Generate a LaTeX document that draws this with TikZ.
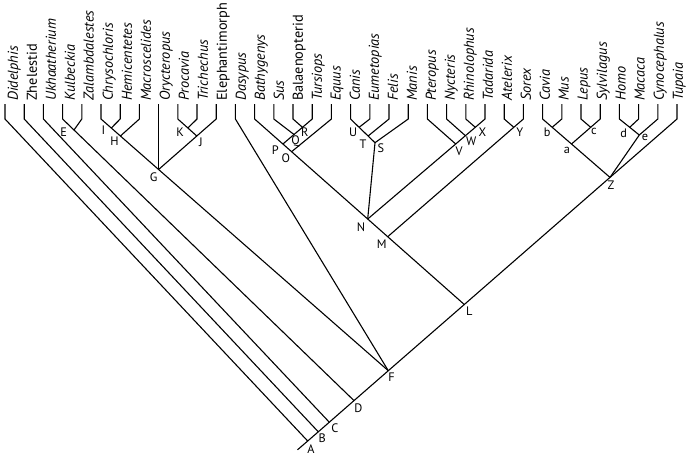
\documentclass[tikz,border=0pt]{standalone}
\usepackage{fontspec}
\setmainfont{PT Sans}
\usetikzlibrary{calc}
\newcommand{\tipsize}{\fontsize{14.3pt}{17pt}\selectfont}
\newcommand{\cladesize}{\fontsize{12.3pt}{14pt}\selectfont}

\begin{document}
\begin{tikzpicture}[
    x=1pt,y=-1pt,
    branch/.style={line width=1.1pt},
    taxon/.style={rotate=90,anchor=north west,inner sep=0pt,font=\tipsize\itshape},
    uptaxon/.style={taxon,font=\tipsize\upshape},
    clade/.style={inner sep=0pt,font=\cladesize},
]
\useasboundingbox (0,0) rectangle (686,456);

% ===== Taxa (tips): top of each tip line, then its name =====
\coordinate (didelphis)      at (5,104);     \node[taxon]   (didelphis-n)      at (7.5,101)   {Didelphis};
\coordinate (zhelestid)      at (24.2,104);  \node[uptaxon] (zhelestid-n)      at (26.5,101)  {Zhelestid};
\coordinate (ukhaatherium)   at (43.4,104);  \node[taxon]   (ukhaatherium-n)   at (45.5,101)  {Ukhaatherium};
\coordinate (kulbeckia)      at (62.6,104);  \node[taxon]   (kulbeckia-n)      at (64.5,101)  {Kulbeckia};
\coordinate (zalambdalestes) at (81.8,104);  \node[taxon]   (zalambdalestes-n) at (83.5,101)  {Zalambdalestes};
\coordinate (chrysochloris)  at (101,104);   \node[taxon]   (chrysochloris-n)  at (102.5,101) {Chrysochloris};
\coordinate (hemicentetes)   at (120.2,104); \node[taxon]   (hemicentetes-n)   at (121.5,101) {Hemicentetes};
\coordinate (macroscelides)  at (139.4,104); \node[taxon]   (macroscelides-n)  at (140.5,101) {Macroscelides};
\coordinate (orycteropus)    at (158.6,104); \node[taxon]   (orycteropus-n)    at (159.5,101) {Orycteropus};
\coordinate (procavia)       at (177.8,104); \node[taxon]   (procavia-n)       at (178.5,101) {Procavia};
\coordinate (trichechus)     at (197,104);   \node[taxon]   (trichechus-n)     at (197.5,101) {Trichechus};
\coordinate (elephantimorph) at (216.2,104); \node[uptaxon] (elephantimorph-n) at (216.5,101) {Elephantimorph};
\coordinate (dasypus)        at (235.4,104); \node[taxon]   (dasypus-n)        at (235.5,101) {Dasypus};
\coordinate (bathygenys)     at (254.6,104); \node[taxon]   (bathygenys-n)     at (254.5,101) {Bathygenys};
\coordinate (sus)            at (273.8,104); \node[taxon]   (sus-n)            at (273.5,101) {Sus};
\coordinate (balaenopterid)  at (293,104);   \node[uptaxon] (balaenopterid-n)  at (292.5,101) {Balaenopterid};
\coordinate (tursiops)       at (312.2,104); \node[taxon]   (tursiops-n)       at (311.5,101) {Tursiops};
\coordinate (equus)          at (331.4,104); \node[taxon]   (equus-n)          at (330.5,101) {Equus};
\coordinate (canis)          at (350.6,104); \node[taxon]   (canis-n)          at (349.5,101) {Canis};
\coordinate (eumetopias)     at (369.8,104); \node[taxon]   (eumetopias-n)     at (368.5,101) {Eumetopias};
\coordinate (felis)          at (389,104);   \node[taxon]   (felis-n)          at (387.5,101) {Felis};
\coordinate (manis)          at (408.2,104); \node[taxon]   (manis-n)          at (406.5,101) {Manis};
\coordinate (pteropus)       at (427.4,104); \node[taxon]   (pteropus-n)       at (425.5,101) {Pteropus};
\coordinate (nycteris)       at (446.6,104); \node[taxon]   (nycteris-n)       at (444.5,101) {Nycteris};
\coordinate (rhinolophus)    at (465.8,104); \node[taxon]   (rhinolophus-n)    at (463.5,101) {Rhinolophus};
\coordinate (tadarida)       at (485,104);   \node[taxon]   (tadarida-n)       at (482.5,101) {Tadarida};
\coordinate (atelerix)       at (504.2,104); \node[taxon]   (atelerix-n)       at (501.5,101) {Atelerix};
\coordinate (sorex)          at (523.4,104); \node[taxon]   (sorex-n)          at (520.5,101) {Sorex};
\coordinate (cavia)          at (542.6,104); \node[taxon]   (cavia-n)          at (539.5,101) {Cavia};
\coordinate (mus)            at (561.8,104); \node[taxon]   (mus-n)            at (558.5,101) {Mus};
\coordinate (lepus)          at (581,104);   \node[taxon]   (lepus-n)          at (577.5,101) {Lepus};
\coordinate (sylvilagus)     at (600.2,104); \node[taxon]   (sylvilagus-n)     at (596.5,101) {Sylvilagus};
\coordinate (homo)           at (619.4,104); \node[taxon]   (homo-n)           at (615.5,101) {Homo};
\coordinate (macaca)         at (638.6,104); \node[taxon]   (macaca-n)         at (634.5,101) {Macaca};
\coordinate (cynocephalus)   at (657.8,104); \node[taxon]   (cynocephalus-n)   at (653.5,101) {Cynocephalus};
\coordinate (tupaia)         at (677,104);   \node[taxon]   (tupaia-n)         at (672.5,101) {Tupaia};

% ===== Internal nodes =====
\coordinate (root) at (297.5,449.8);
\coordinate (A) at (307.7,441);
\coordinate (B) at (318.3,431.8);
\coordinate (C) at (329.3,422.2);
\coordinate (D) at (354,400.6);
\coordinate (E) at (74,130);
\coordinate (F) at (388.3,370.7);
\coordinate (G) at (158.6,169.5);
\coordinate (H) at (120.4,136);
\coordinate (I) at (111.3,128);
\coordinate (J) at (196.8,136);
\coordinate (K) at (187.9,128);
\coordinate (L) at (464.3,304.5);
\coordinate (M) at (387.7,236.7);
\coordinate (N) at (367.7,219);
\coordinate (O) at (291.6,151.7);
\coordinate (P) at (282.9,144);
\coordinate (Q) at (294,134.5);
\coordinate (R) at (302.5,127.3);
\coordinate (S) at (375,142.7);
\coordinate (T) at (368.1,136);
\coordinate (U) at (359.1,127.3);
\coordinate (V) at (455.7,144);
\coordinate (W) at (465.4,135.7);
\coordinate (X) at (475.3,127.3);
\coordinate (Y) at (513.8,127.3);
\coordinate (Z) at (610,177.4);
\coordinate (a) at (571.5,144);
\coordinate (b) at (552.2,127.3);
\coordinate (c) at (590.7,127.3);
\coordinate (d) at (629.7,127.3);
\coordinate (e) at (639.3,135);

% ===== Node letters =====
\node[clade] (lA) at ($(A)+(3.3,8.3)$) {A};
\node[clade] (lB) at ($(B)+(4,6.7)$) {B};
\node[clade] (lC) at ($(C)+(5.7,6)$) {C};
\node[clade] (lD) at ($(D)+(4.3,7.7)$) {D};
\node[clade] (lE) at ($(E)+(-10.3,2.3)$) {E};
\node[clade] (lF) at ($(F)+(3.3,6.7)$) {F};
\node[clade] (lG) at ($(G)+(-5,7.7)$) {G};
\node[clade] (lH) at ($(H)+(-6,5)$) {H};
\node[clade] (lI) at ($(I)+(-8,1.7)$) {I};
\node[clade] (lJ) at ($(J)+(4,6.3)$) {J};
\node[clade] (lK) at ($(K)+(-7.7,4)$) {K};
\node[clade] (lL) at ($(L)+(5,6.7)$) {L};
\node[clade] (lM) at ($(M)+(-6,7.7)$) {M};
\node[clade] (lN) at ($(N)+(-6.7,8)$) {N};
\node[clade] (lO) at ($(O)+(-5.7,6.7)$) {O};
\node[clade] (lP) at ($(P)+(-7.7,5.7)$) {P};
\node[clade] (lQ) at ($(Q)+(1.7,6.7)$) {Q};
\node[clade] (lR) at ($(R)+(2.3,5)$) {R};
\node[clade] (lS) at ($(S)+(6,5.6)$) {S};
\node[clade] (lT) at ($(T)+(-5,8)$) {T};
\node[clade] (lU) at ($(U)+(-6,5)$) {U};
\node[clade] (lV) at ($(V)+(3.3,7.7)$) {V};
\node[clade] (lW) at ($(W)+(5.7,6)$) {W};
\node[clade] (lX) at ($(X)+(7,5)$) {X};
\node[clade] (lY) at ($(Y)+(6,5)$) {Y};
\node[clade] (lZ) at ($(Z)+(1,7.7)$) {Z};
\node[clade] (la) at ($(a)+(-4.7,6)$) {a};
\node[clade] (lb) at ($(b)+(-5,5)$) {b};
\node[clade] (lc) at ($(c)+(3.3,4.3)$) {c};
\node[clade] (ld) at ($(d)+(-6,6)$) {d};
\node[clade] (le) at ($(e)+(5.7,2.3)$) {e};

% ===== Backbone =====
\draw[branch] (tupaia) -- ++(0,15) -- (Z) -- (L) -- (F) -- (D) -- (C) -- (B) -- (A) -- (root);

% ===== Basal lineages =====
\draw[branch] (didelphis) -- ++(0,15) -- (A);
\draw[branch] (zhelestid) -- ++(0,15) -- (B);
\draw[branch] (ukhaatherium) -- ++(0,15) -- (C);
\draw[branch] (kulbeckia) -- ++(0,15) -- (E) -- (D);
\draw[branch] (zalambdalestes) -- ++(0,15) -- (E);

% ===== Afrotheria and Dasypus =====
\draw[branch] (chrysochloris) -- ++(0,15) -- (I) -- (H) -- (G) -- (F);
\draw[branch] (hemicentetes) -- ++(0,15) -- (I);
\draw[branch] (macroscelides) -- ++(0,15) -- (H);
\draw[branch] (orycteropus) -- (G);
\draw[branch] (procavia) -- ++(0,15) -- (K) -- (J);
\draw[branch] (trichechus) -- ++(0,15) -- (K);
\draw[branch] (elephantimorph) -- ++(0,15) -- (J) -- (G);
\draw[branch] (dasypus) -- ++(0,15) -- (F);

% ===== Laurasiatheria =====
\draw[branch] (bathygenys) -- ++(0,15) -- (P) -- (O) -- (N) -- (M) -- (L);
\draw[branch] (sus) -- ++(0,15) -- (Q);
\draw[branch] (balaenopterid) -- ++(0,15) -- (R);
\draw[branch] (tursiops) -- ++(0,15) -- (R) -- (Q) -- (P);
\draw[branch] (equus) -- ++(0,15) -- (O);
\draw[branch] (canis) -- ++(0,15) -- (U) -- (T) -- (S);
\draw[branch] (eumetopias) -- ++(0,15) -- (U);
\draw[branch] (felis) -- ++(0,15) -- (T);
\draw[branch] (manis) -- ++(0,15) -- (S);
\draw[branch] (S) -- (N);
\draw[branch] (pteropus) -- ++(0,15) -- (V);
\draw[branch] (nycteris) -- ++(0,15) -- (W);
\draw[branch] (rhinolophus) -- ++(0,15) -- (X);
\draw[branch] (tadarida) -- ++(0,15) -- (X) -- (W) -- (V) -- (N);
\draw[branch] (atelerix) -- ++(0,15) -- (Y);
\draw[branch] (sorex) -- ++(0,15) -- (Y) -- (M);

% ===== Euarchontoglires =====
\draw[branch] (cavia) -- ++(0,15) -- (b) -- (a) -- (Z);
\draw[branch] (mus) -- ++(0,15) -- (b);
\draw[branch] (lepus) -- ++(0,15) -- (c);
\draw[branch] (sylvilagus) -- ++(0,15) -- (c) -- (a);
\draw[branch] (homo) -- ++(0,15) -- (d) -- (e);
\draw[branch] (macaca) -- ++(0,15) -- (d);
\draw[branch] (cynocephalus) -- ++(0,15) -- (e) -- (Z);

\end{tikzpicture}
\end{document}
